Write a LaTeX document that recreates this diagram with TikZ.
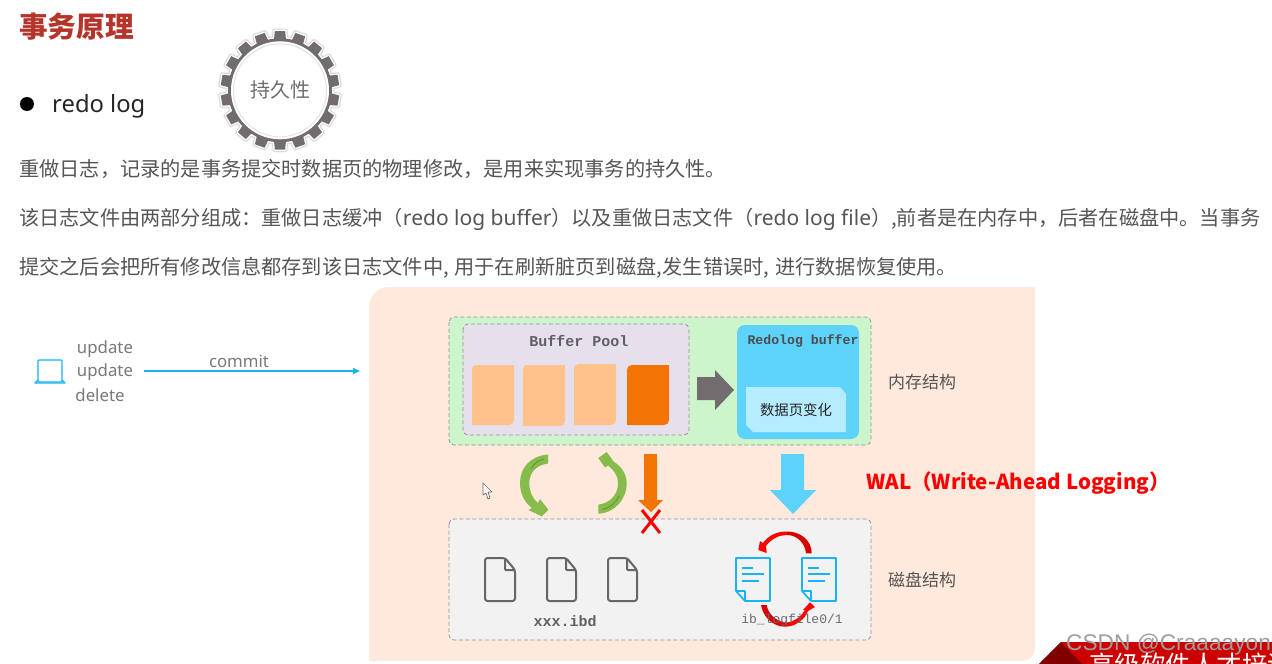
\documentclass[tikz,border=0pt]{standalone}
\usepackage{fontspec}
\setmainfont{Noto Sans CJK SC}
\newfontfamily\monof{Liberation Mono}
\newfontfamily\sansf{Liberation Sans}
\newfontfamily\latf{Noto Sans}
\usetikzlibrary{arrows.meta,calc}
\definecolor{titlered}{HTML}{B5352A}
\definecolor{bodygray}{HTML}{555555}
\definecolor{peach}{HTML}{FEE9DC}
\definecolor{memgreen}{HTML}{CDF5CB}
\definecolor{poolgray}{HTML}{E6E0EC}
\definecolor{lightorange}{HTML}{FFC28A}
\definecolor{deeporange}{HTML}{F27405}
\definecolor{skyblue}{HTML}{5DD3FC}
\definecolor{paleblue}{HTML}{B6ECFF}
\definecolor{diskgray}{HTML}{F2F2F2}
\definecolor{darkgray}{HTML}{716C6E}
\definecolor{leaf}{HTML}{86BC4B}
\definecolor{linkblue}{HTML}{16B4F2}
\definecolor{filegray}{HTML}{666666}
\tikzset{
  para/.style={anchor=base west,inner sep=0pt,text=bodygray,font=\fontsize{20.2}{24}\selectfont},
  zone/.style={draw=gray!85,dashed,dash pattern=on 4pt off 2.5pt,line width=.8pt,rounded corners=5pt},
  side/.style={anchor=base west,inner sep=0pt,text=bodygray,font=\fontsize{17}{20}\selectfont},
  cmd/.style={inner sep=0pt,text=gray!95!black,font=\latf\fontsize{16.8}{20}\selectfont},
  monol/.style={inner sep=0pt,text=gray!75!black,font=\monof\bfseries\fontsize{15}{18}\selectfont},
  filei/.style={draw=filegray,line width=2pt,line join=round,rounded corners=2.5pt},
  logi/.style={draw=linkblue,line width=1.7pt,line join=round},
  logl/.style={draw=linkblue,line width=1.5pt},
}
\begin{document}
\begin{tikzpicture}[x=1pt,y=-1pt]
\useasboundingbox (0,0) rectangle (1272,664);
\fill[white] (0,0) rectangle (1272,664);
% heading
\node[anchor=base west,inner sep=0pt,text=titlered,font=\bfseries\fontsize{28.7}{32}\selectfont] (title) at (19,37) {事务原理};
\fill[black] (27,104) circle (7);
\node[anchor=base west,inner sep=0pt,text=black!85,font=\latf\fontsize{23.8}{28}\selectfont] (redo) at (52,112) {redo log};
% gear
\begin{scope}[shift={(280,90.3)}]
  \foreach \wd/\col in {6/gray!12,4.5/gray!30,2.6/white}{
    \foreach \a in {10,30,...,350}{
      \draw[\col,line width=\wd pt,line join=round] (\a+6.5:52) -- (\a+5:59.5) -- (\a-5:59.5) -- (\a-6.5:52);
      \draw[\col,line width=\wd pt] (\a+6.5:52) arc[start angle=\a+6.5,end angle=\a+13.5,radius=52];
    }
  }
  \fill[darkgray] (0,0) circle (52);
  \foreach \a in {10,30,...,350}{
    \fill[darkgray] (\a+7:50) -- (\a+6.5:52) -- (\a+5:59.5) -- (\a-5:59.5) -- (\a-6.5:52) -- (\a-7:50) -- cycle;
  }
  \fill[white] (0,0) circle (49);
  \draw[gray!22,line width=1pt] (0,0) circle (46.5);
  \node[inner sep=0pt,text=darkgray,font=\fontsize{20}{24}\selectfont] (durable) at (0,0) {持久性};
\end{scope}
% paragraphs
\node[para] (p1) at (19,176) {重做日志，记录的是事务提交时数据页的物理修改，是用来实现事务的持久性。};
\node[para] (p2) at (19,225) {该日志文件由两部分组成：重做日志缓冲（{\latf\fontsize{21}{24}\selectfont redo log buffer}）以及重做日志文件（{\latf\fontsize{21}{24}\selectfont redo log file}）,前者是在内存中，后者在磁盘中。当事务};
\node[para] (p3) at (19,274) {提交之后会把所有修改信息都存到该日志文件中, \kern1pt 用于在刷新脏页到磁盘,\kern.5pt 发生错误时, \kern1.5pt 进行数据恢复使用。};
% peach panel
\fill[peach] (1035,287) -- (389,287) arc[start angle=-90,end angle=-180,radius=20] -- (369,661) -- (1022,661) arc[start angle=90,end angle=0,radius=13] -- cycle;
% client
\draw[linkblue,line width=1.4pt,line join=round,rounded corners=1pt] (38,382) -- (38,360) -- (62,360) -- (62,382) -- cycle;
\draw[linkblue,line width=1.4pt,line join=round] (38,380) -- (35,383) -- (65,383) -- (62,380);
\node[cmd] (u1) at (105,349) {update};
\node[cmd] (u2) at (105,372) {update};
\node[cmd] (d1) at (100,395) {delete};
\coordinate (cstart) at (144,371);
\coordinate (cend) at (360,371);
\draw[linkblue,line width=1.6pt,-{Triangle[length=7pt,width=6pt]}] (cstart) -- node[pos=.44,above=3pt,inner sep=0pt,text=gray!95!black,font=\latf\fontsize{16.8}{20}\selectfont] {commit} (cend);
% memory zone
\fill[memgreen,rounded corners=5pt] (449,317) rectangle (871,445);
\draw[zone] (449,317) rectangle (871,445);
\fill[poolgray,rounded corners=6pt] (463,324) rectangle (689,435);
\draw[zone] (463,324) rectangle (689,435);
\node[monol] (bp) at (579,341) {Buffer Pool};
% pages
\fill[lightorange] (476,365) .. controls (473,365) and (472,367) .. (472,370) -- (472,425) -- (509,425) .. controls (512,425) and (514,423) .. (514,420) -- (514,365) -- cycle;
\fill[lightorange] (527,365) .. controls (524,365) and (523,367) .. (523,370) -- (523,426) -- (560,426) .. controls (563,426) and (565,424) .. (565,421) -- (565,365) -- cycle;
\fill[lightorange] (579,364) .. controls (576,364) and (574,366) .. (574,369) -- (574,425) -- (611,425) .. controls (614,425) and (616,423) .. (616,420) -- (616,364) -- cycle;
\fill[deeporange] (632,365) .. controls (629,365) and (627,367) .. (627,370) -- (627,425) -- (664,425) .. controls (667,425) and (669,423) .. (669,420) -- (669,365) -- cycle;
% grey arrow
\fill[darkgray] (697,377) -- (715,377) -- (715,370) -- (734,390) -- (715,410) -- (715,400) -- (697,400) -- cycle;
% redolog buffer
\fill[skyblue,rounded corners=8pt] (737,325) rectangle (859,439);
\node[inner sep=0pt,text=gray!60!black,font=\monof\bfseries\fontsize{13.2}{16}\selectfont] (rb) at (803,341) {Redolog buffer};
\fill[paleblue] (746,387) -- (840,387) -- (846,394) -- (846,432) -- (753,432) -- (746,425) -- cycle;
\node[inner sep=0pt,text=black!85,font=\fontsize{14.4}{18}\selectfont] (chg) at (796,410) {数据页变化};
\node[side] (ml) at (888,388) {内存结构};
% green arcs
\fill[leaf] (548,454.5) .. controls (530,456) and (520,468) .. (520,483) .. controls (520,494) and (525,503) .. (532,508) -- (528.5,510) -- (541.7,516.3) -- (548.3,509.7) -- (540,499) -- (538,503) .. controls (532,498) and (529.3,491) .. (529.3,483) .. controls (529.3,473) and (536,465) .. (548,463.5) -- cycle;
\draw[leaf!75!black,line width=.8pt] (531,469) .. controls (534,463) and (539,460) .. (544,459);
\fill[leaf] (598.3,513.7) .. controls (615,513) and (626.7,499) .. (626.7,483) .. controls (626.7,474) and (621,466) .. (614,462) -- (606.7,452) -- (598.3,458) -- (605,467.5) -- (608,465.5) .. controls (614,470) and (618,476) .. (618,483) .. controls (618,495) and (610,503) .. (598.3,504.7) -- cycle;
\draw[leaf!75!black,line width=.8pt] (602,509.5) .. controls (610,508) and (616,503) .. (619,496);
% orange arrow + cross
\fill[deeporange] (644,454) -- (657,454) -- (657,500) -- (663,500) -- (651,512) -- (638,500) -- (644,500) -- cycle;
% blue arrow
\fill[skyblue] (781,454) -- (804,454) -- (804,490) -- (816,490) -- (793,514) -- (770,490) -- (781,490) -- cycle;
% WAL
\node[anchor=base west,inner sep=0pt,text=red,font=\bfseries\fontsize{20.56}{24}\selectfont] (wal) at (866,489) {WAL（Write-Ahead Logging）};
% disk zone
\fill[diskgray,rounded corners=5pt] (449,519) rectangle (871,640);
\draw[zone] (449,519) rectangle (871,640);
\draw[red,line width=3pt] (642,510) -- (660,533) (660,510) -- (642,533);
% mouse cursor
\draw[gray!85!black,line width=.7pt,fill=white,line join=round] (483,483) -- (483,495) -- (486,493) -- (488,499) -- (490,498) -- (488,492) -- (492,492) -- cycle;
% ibd files
\foreach \x/\w in {485/30,547/29,608/29}{
  \draw[filei] (\x,558) -- (\x,601) -- (\x+\w,601) -- (\x+\w,570) -- (\x+\w-10,558) -- cycle;
  \draw[filei,rounded corners=1pt] (\x+\w-10,558) -- (\x+\w-10,570) -- (\x+\w,570);
}
\node[monol] (ibd) at (565,621) {xxx.ibd};
% log files
\foreach \x in {736,802}{
  \draw[logi] (\x,558) -- (\x+34,558) -- (\x+34,601) -- (\x+9,601) -- (\x,591) -- cycle;
  \draw[logi] (\x,591) -- (\x+9,591) -- (\x+9,601);
  \draw[logl] (\x+6,568) -- (\x+17,568) (\x+6,574) -- (\x+28,574) (\x+6,581) -- (\x+23,581);
}
% red cycle arcs
\fill[red] (766,546) .. controls (772,538) and (780,535) .. (787,535) -- (787,531.5) .. controls (776,531.5) and (768,536) .. (763,543) -- (760,541) -- (758.3,550) -- (766.7,553) -- cycle;
\fill[red!85!black] (787,531.5) .. controls (800,531.5) and (811.7,540) .. (811.7,553.3) -- (806,553.3) .. controls (805,543) and (797,535) .. (787,535) -- cycle;
\fill[red!85!black] (761,605) .. controls (763,617) and (773,626.7) .. (785,626.7) -- (785,622.5) .. controls (776,621) and (768,614) .. (766.7,605) -- cycle;
\fill[red] (785,626.7) .. controls (796,626.7) and (805,619) .. (808,611) -- (815,607) -- (810,602.3) -- (803,610) -- (805,609.5) .. controls (802,616) and (794,622.5) .. (785,622.5) -- cycle;
\node[inner sep=0pt,text=gray!85!black,font=\monof\fontsize{13}{16}\selectfont] (ibl) at (792,620) {ib\_logfile0/1};
\node[side] (dl) at (888,586) {磁盘结构};
% corner banner
\begin{scope}
  \clip (0,0) rectangle (1272,664);
  \fill[red!80!black] (1061,642) -- (1272,642) -- (1272,664) -- (1039,664) -- cycle;
  \fill[red!50!black] (1039,664) -- (1061,642) -- (1082,664) -- cycle;
  \node[anchor=base west,inner sep=0pt,text=white,font=\fontsize{25.5}{28}\selectfont] (brand) at (1089,674) {高级软件人才培训};
  \node[anchor=base west,inner sep=0pt,text=gray!75,font=\sansf\fontsize{22.7}{26}\selectfont] (wm) at (1066,650) {CSDN @Craaaayon};
\end{scope}
\end{tikzpicture}
\end{document}
